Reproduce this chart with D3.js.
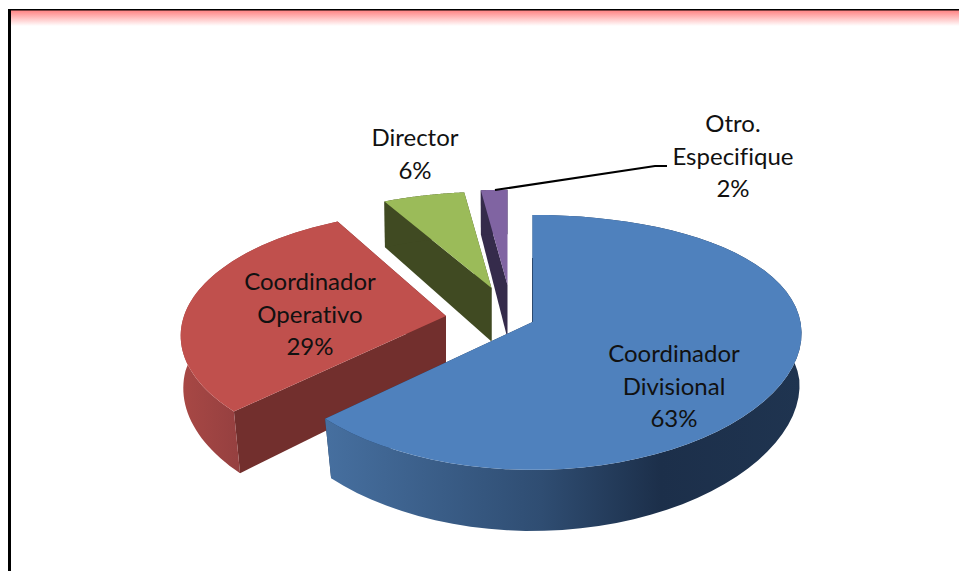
<!DOCTYPE html>
<html>
<head>
<meta charset="utf-8">
<script src="https://cdnjs.cloudflare.com/ajax/libs/d3/7.8.5/d3.min.js"></script>
<style>
  html, body { margin: 0; padding: 0; background: #fff; }
  svg { display: block; }
  text { font-family: Lato, "Open Sans", sans-serif; font-size: 24px; fill: #111; text-anchor: middle; font-variant-ligatures: none; }
</style>
</head>
<body>
<div id="chart"></div>
<script>
var categories = ["Coordinador Divisional", "Coordinador Operativo", "Director", "Otro. Especifique"];
var percents = [63, 29, 6, 2];
var topColors = ["#4f81bd", "#c0504d", "#9bbb59", "#8064a2"];
var wallColors = ["#1f3554", "#722f2d", "#404a22", "#352b4b"];

var width = 959, height = 571;

// every slice is pulled out by hand, so each has its own apex and lens
var layout = [
  {apex: [532.5, 322], rx: 268, kx: 0.09, label: [674, 362], lines: ["Coordinador", "Divisional"]},
  {apex: [446, 316], rx: 264, kx: 0.16, label: [310, 290], lines: ["Coordinador", "Operativo"]},
  {apex: [491.5, 288], rx: 272, kx: 0.16, label: [415, 146], lines: ["Director"]},
  {apex: [507.5, 285], rx: 268, kx: 0.16, label: [733, 132], lines: ["Otro.", "Especifique"]}
];
var ry = 127.5, depth = 56, k = 0.16;

var svg = d3.select("#chart").append("svg")
    .attr("width", width)
    .attr("height", height);

var defs = svg.append("defs");

var bandGrad = defs.append("linearGradient")
    .attr("id", "band")
    .attr("x1", 0).attr("y1", 0).attr("x2", 0).attr("y2", 1);
bandGrad.append("stop").attr("offset", 0).attr("stop-color", "#ff8080");
bandGrad.append("stop").attr("offset", 1).attr("stop-color", "#fff");

var blueGrad = defs.append("linearGradient")
    .attr("id", "blueWall")
    .attr("gradientUnits", "userSpaceOnUse")
    .attr("x1", 327).attr("y1", 0).attr("x2", 803).attr("y2", 0);
blueGrad.append("stop").attr("offset", 0).attr("stop-color", "#466f9f");
blueGrad.append("stop").attr("offset", 0.45).attr("stop-color", "#2f4d72");
blueGrad.append("stop").attr("offset", 0.7).attr("stop-color", "#1c2f4a");
blueGrad.append("stop").attr("offset", 1).attr("stop-color", "#1f3450");

var redGrad = defs.append("linearGradient")
    .attr("id", "redWall")
    .attr("gradientUnits", "userSpaceOnUse")
    .attr("x1", 181).attr("y1", 0).attr("x2", 237).attr("y2", 0);
redGrad.append("stop").attr("offset", 0).attr("stop-color", "#a84845");
redGrad.append("stop").attr("offset", 1).attr("stop-color", "#964040");

// frame
svg.append("rect")
    .attr("x", 11).attr("y", 10)
    .attr("width", width - 11).attr("height", 16)
    .attr("fill", "url(#band)");
svg.append("rect").attr("x", 8).attr("y", 9).attr("width", width - 8).attr("height", 1.5).attr("fill", "#000");
svg.append("rect").attr("x", 8).attr("y", 9).attr("width", 3).attr("height", height - 9).attr("fill", "#000");

var pie = d3.pie().sort(null).value(function(d) { return d; });
var arcs = pie(percents);

// perspective: the far side of the disc shrinks, the far slices flatten faster,
// and the underside pulls in mostly on the near side
function project(slice, angle, r, z) {
  var l = layout[slice],
      x = r * Math.sin(angle),
      v = -r * Math.cos(angle),
      vo = (l.apex[1] - 322) / ry,
      sx = 1 + l.kx * (v + vo),
      sy = 1 + k * v + 2 * k * vo,
      shrink = 0.005 + 0.035 * Math.max(v, 0);
  return [l.apex[0] + l.rx * x * sx * (1 - shrink * z), l.apex[1] + ry * v * sy + z * depth * sx];
}

var line = d3.line();

function rim(slice, a0, a1, z) {
  return d3.range(0, 61).map(function(i) {
    return project(slice, a0 + (a1 - a0) * i / 60, 1, z);
  });
}

function flatWall(slice, a) {
  return [project(slice, a, 0, 0), project(slice, a, 1, 0), project(slice, a, 1, 1), project(slice, a, 0, 1)];
}

// back to front
[3, 2, 1, 0].forEach(function(i) {
  var d = arcs[i], g = svg.append("g");
  g.append("path").attr("d", line(flatWall(i, d.endAngle)) + "Z").attr("fill", wallColors[i]);
  g.append("path").attr("d", line(flatWall(i, d.startAngle)) + "Z").attr("fill", wallColors[i]);
  var wall = i == 0 ? "url(#blueWall)" : i == 1 ? "url(#redWall)" : wallColors[i];
  g.append("path")
      .attr("d", line(rim(i, d.startAngle, d.endAngle, 0).concat(rim(i, d.startAngle, d.endAngle, 1).reverse())) + "Z")
      .attr("fill", wall);
  g.append("path")
      .attr("d", line([project(i, 0, 0, 0)].concat(rim(i, d.startAngle, d.endAngle, 0))) + "Z")
      .attr("fill", topColors[i]);
});

// thin dark sliver on the straight edge of the big slice
svg.append("path")
    .attr("d", line([project(0, 0, 0, 0), project(0, 0, 0.55, 0)]))
    .attr("stroke", "#2c4a70")
    .attr("stroke-width", 1)
    .attr("fill", "none");

// leader for the small slice
svg.append("path")
    .attr("d", line([[495, 190], [655, 166], [667, 166]]))
    .attr("stroke", "#000")
    .attr("stroke-width", 2.2)
    .attr("fill", "none");

// labels
layout.forEach(function(l, i) {
  var t = svg.append("text").attr("x", l.label[0]).attr("y", l.label[1]);
  l.lines.concat([percents[i] + "%"]).forEach(function(s, j) {
    t.append("tspan").attr("x", l.label[0]).attr("dy", j ? 32.5 : 0).text(s);
  });
});
</script>
</body>
</html>
